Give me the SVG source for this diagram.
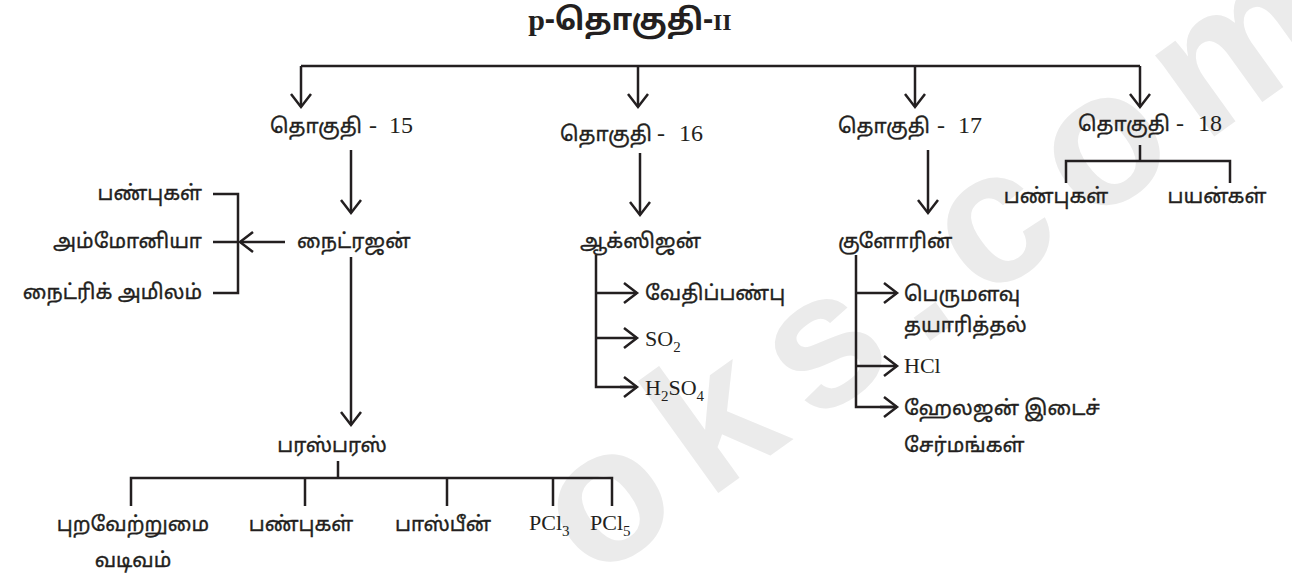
<svg xmlns="http://www.w3.org/2000/svg" width="1292" height="575" viewBox="0 0 1292 575">
<style>
.t{font-family:"Noto Sans Tamil","Lohit Tamil","Noto Sans","Liberation Sans",sans-serif;font-size:20.5px;fill:#231f20;stroke:#231f20;stroke-width:0.35}
.s{font-family:"Liberation Serif",serif;font-size:22px;fill:#231f20}
.n{font-family:"Liberation Serif",serif;font-size:24px;fill:#231f20}
.sub{font-size:15px}
.ln{fill:none;stroke:#231f20;stroke-width:2.5}
.wm{font-family:"Liberation Sans",sans-serif;font-weight:bold;font-size:190px;letter-spacing:25px;fill:#ebebeb}
</style>
<defs>
<marker id="ah" viewBox="-15 -15 30 30" refX="0" refY="0" markerWidth="30" markerHeight="30" markerUnits="userSpaceOnUse" orient="auto">
<path d="M-13,-10 L0,0 L-13,10" fill="none" stroke="#231f20" stroke-width="2.5"/>
</marker>
</defs>
<rect width="1292" height="575" fill="#ffffff"/>
<text class="wm" transform="translate(593,583) rotate(-35.7)">oks.com</text>

<g id="title"><text x="630" y="30" text-anchor="middle" font-weight="bold" font-size="30" fill="#231f20"><tspan font-family="Liberation Serif,serif">p</tspan><tspan font-family="Noto Sans Tamil,Liberation Sans,sans-serif">-தொகுதி-</tspan><tspan font-family="Liberation Serif,serif" font-size="24">II</tspan></text></g>

<g id="connectors">
<path class="ln" d="M301,66 H1140"/>
<path class="ln" d="M301,66 V107" marker-end="url(#ah)"/>
<path class="ln" d="M638,66 V107" marker-end="url(#ah)"/>
<path class="ln" d="M915,66 V107" marker-end="url(#ah)"/>
<path class="ln" d="M1140,66 V107" marker-end="url(#ah)"/>
<path class="ln" d="M351,150 V213" marker-end="url(#ah)"/>
<path class="ln" d="M285,242 H240" marker-end="url(#ah)"/>
<path class="ln" d="M213,194 H238 V293 H213 M213,242 H238"/>
<path class="ln" d="M351,257 V425" marker-end="url(#ah)"/>
<path class="ln" d="M338,461 V478 M131,506 V478 H612 V506 M305,478 V506 M447,478 V506 M553,478 V506"/>
<path class="ln" d="M640,153 V215" marker-end="url(#ah)"/>
<path class="ln" d="M596,255 V387 H637"/>
<path class="ln" d="M596,293 H637" marker-end="url(#ah)"/>
<path class="ln" d="M596,338 H637" marker-end="url(#ah)"/>
<path class="ln" d="M620,387 H637" marker-end="url(#ah)"/>
<path class="ln" d="M928,150 V213" marker-end="url(#ah)"/>
<path class="ln" d="M856,255 V407 H897"/>
<path class="ln" d="M856,293 H897" marker-end="url(#ah)"/>
<path class="ln" d="M856,366 H897" marker-end="url(#ah)"/>
<path class="ln" d="M880,407 H897" marker-end="url(#ah)"/>
<path class="ln" d="M1140,145 V161 M1066,183 V161 H1230 V183"/>
</g>

<g id="g15"><text class="t" x="270" y="133">தொகுதி</text><text class="n" x="369" y="133">-</text><text class="n" x="389" y="133">15</text></g>
<g id="nitrogen"><text class="t" x="297" y="248">நைட்ரஜன்</text></g>
<g id="n-props"><text class="t" x="202" y="200" text-anchor="end">பண்புகள்</text></g>
<g id="ammonia"><text class="t" x="202" y="248" text-anchor="end">அம்மோனியா</text></g>
<g id="nitric"><text class="t" x="202" y="299" text-anchor="end">நைட்ரிக் அமிலம்</text></g>
<g id="phosphorus"><text class="t" x="332" y="452" text-anchor="middle">பரஸ்பரஸ்</text></g>
<g id="allotropy"><text class="t" x="133" y="531" text-anchor="middle">புறவேற்றுமை</text><text class="t" x="133" y="567" text-anchor="middle">வடிவம்</text></g>
<g id="p-props"><text class="t" x="301" y="531" text-anchor="middle">பண்புகள்</text></g>
<g id="phosphine"><text class="t" x="443" y="531" text-anchor="middle">பாஸ்பீன்</text></g>
<g id="pcl3"><text class="s" x="529" y="530">PCl<tspan class="sub" dy="6">3</tspan></text></g>
<g id="pcl5"><text class="s" x="590" y="530">PCl<tspan class="sub" dy="6">5</tspan></text></g>

<g id="g16"><text class="t" x="560" y="141">தொகுதி</text><text class="n" x="657" y="141">-</text><text class="n" x="679" y="141">16</text></g>
<g id="oxygen"><text class="t" x="580" y="248">ஆக்ஸிஜன்</text></g>
<g id="o-chem"><text class="t" x="645" y="300">வேதிப்பண்பு</text></g>
<g id="so2"><text class="s" x="645" y="346">SO<tspan class="sub" dy="6">2</tspan></text></g>
<g id="h2so4"><text class="s" x="645" y="395">H<tspan class="sub" dy="6">2</tspan><tspan dy="-6">SO</tspan><tspan class="sub" dy="6">4</tspan></text></g>

<g id="g17"><text class="t" x="838" y="133">தொகுதி</text><text class="n" x="937" y="133">-</text><text class="n" x="958" y="133">17</text></g>
<g id="chlorine"><text class="t" x="838" y="248">குளோரின்</text></g>
<g id="bulk"><text class="t" x="904" y="301">பெருமளவு</text><text class="t" x="904" y="332">தயாரித்தல்</text></g>
<g id="hcl"><text class="s" x="904" y="373">HCl</text></g>
<g id="interhalogen"><text class="t" x="904" y="415">ஹேலஜன் இடைச்</text><text class="t" x="904" y="452">சேர்மங்கள்</text></g>

<g id="g18"><text class="t" x="1078" y="131">தொகுதி</text><text class="n" x="1176" y="131">-</text><text class="n" x="1198" y="131">18</text></g>
<g id="ng-props"><text class="t" x="1056" y="203" text-anchor="middle">பண்புகள்</text></g>
<g id="uses"><text class="t" x="1217" y="203" text-anchor="middle">பயன்கள்</text></g>
</svg>
